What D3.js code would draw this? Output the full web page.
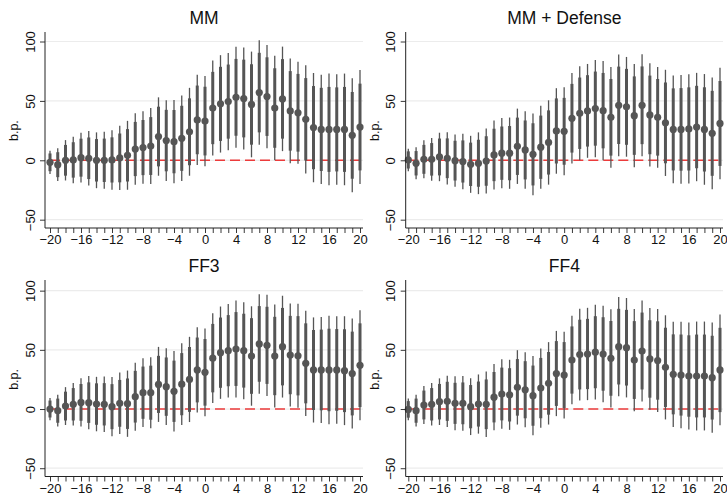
<!DOCTYPE html>
<html>
<head>
<meta charset="utf-8">
<script src="https://cdn.jsdelivr.net/npm/d3@7"></script>
<style>
body { margin: 0; background: #fff; }
svg { display: block; font-family: "Liberation Sans", Arial, sans-serif; }
</style>
</head>
<body>
<svg id="chart" width="727" height="496"></svg>
<script>
// event days
const days = [-20,-19,-18,-17,-16,-15,-14,-13,-12,-11,-10,-9,-8,-7,-6,-5,-4,-3,-2,-1,
	0,1,2,3,4,5,6,7,8,9,10,11,12,13,14,15,16,17,18,19,20];
const xTickLabels = [-20,-16,-12,-8,-4,0,4,8,12,16,20];
const yTickLabels = [-50,0,50,100];

// point estimates (b.p.) and half-width of the wide (99%) interval
const mmEst = [-1.7,-3.7,0,0.3,2.2,1.7,0,0,0.3,2,4.2,9.5,10.7,12,20,16.6,15.7,18.5,24,34,
	33,44,47.5,49.4,53,52,47,57,53.6,44,51.7,41.6,40,34.5,27.5,26,26,26,26,21,28];
const mmCi = [9.8,13.8,17,19.6,21,23,23.5,24,25,27,29,30,30.5,32,33,34,35,36,37,38,
	38,40,41,41,42.5,43,44.5,44,43.5,44,44,44,43,45.6,46,46,47,46.5,47,48,48];

const defEst = [0.3,-2.5,0.8,0.8,2.8,1.7,-0.3,-1,-3.4,-2.5,-0.6,4.5,6,6,11.8,8.7,5,11,15,24.7,
	24.4,35.4,39.6,41.6,43.5,41.8,36.2,46.3,45,37.6,46.3,38.2,36.2,31.5,26,26,26.4,28,26,22.7,31];
const defCi = [9.5,13.5,16,18,20.4,22,22,23.3,24,26,27.4,29,29.5,30,31.7,32.6,34.4,35,35.5,36,
	37,38,39.5,39.5,41,41.7,42.4,42.8,42,43.4,43,43.5,42.4,44.7,45.4,45.7,46,45.6,46.6,47,47];

const ff3Est = [0,-1.4,2.5,4,5.6,5.4,4.2,4,2,4.8,4.5,10.4,13.8,13.8,20.8,18.9,15,21,25,33,
	31,43,47.6,49.3,50.7,49.3,44.8,55,53.8,44.8,52.7,45.6,45,38.6,33,33,33,33,32.4,30,37];
const ff3Ci = [9.4,13.4,16,18,20.4,22.5,23,23.5,25,26,28,28.7,29,30,31.7,32.4,34,34.5,36,36,
	37,38,39,39.5,41,41,42,42,42.8,43.5,43,43.5,44,44.4,44.4,44.8,45.8,45.4,46,46.5,46.5];

const ff4Est = [-0.3,-1.4,3.4,4,6.2,6.5,4.8,4.8,2,4.2,4,10,12.7,12,18.3,16.3,11.3,17.7,21.7,30,
	28.7,41.4,46,46.5,48,46.5,42.8,52.7,51.8,41.4,49,42.3,41,35.2,29.3,28.7,27.9,27.9,27.9,26.5,33];
const ff4Ci = [9.2,13.4,16,18,19.7,21.7,22.8,23.2,24,25,27.6,28,29.3,29.6,31.4,31.7,33.4,33.5,34.8,36,
	36.6,37.3,38.7,39,40,40.8,41.5,42,42,43.2,42.7,43,43.5,44,44.4,45,45.2,46,46,46.5,46.8];

const titles = ["MM", "MM + Defense", "FF3", "FF4"];

const zWide = 2.576, zNarrow = 1.96;
const dotColor = "#555555";
const font = "'Liberation Sans', Arial, sans-serif";

// panel frames
const panels = [
	{title: titles[0], est: mmEst, ci: mmCi, left: 45, right: 363, xa: 50, xb: 360, top: 32, bottom: 228, yDom: [-57, 108], titleY: 24},
	{title: titles[1], est: defEst, ci: defCi, left: 405.7, right: 723, xa: 408.3, xb: 720, top: 32, bottom: 228, yDom: [-57, 108], titleY: 24},
	{title: titles[2], est: ff3Est, ci: ff3Ci, left: 45, right: 363, xa: 50, xb: 360, top: 280, bottom: 476.5, yDom: [-57, 109], titleY: 272},
	{title: titles[3], est: ff4Est, ci: ff4Ci, left: 405.7, right: 723, xa: 408.3, xb: 720, top: 280, bottom: 476.5, yDom: [-57, 109], titleY: 272}
];

const svg = d3.select("#chart");

function drawPanel(p) {
	const g = svg.append("g");
	const x = d3.scaleLinear().domain([-20, 20]).range([p.xa, p.xb]);
	const y = d3.scaleLinear().domain(p.yDom).range([p.bottom, p.top]);
	const data = days.map((d, i) => ({day: d, est: p.est[i], ci: p.ci[i]}));

	// title
	g.append("text")
		.attr("x", (p.left + p.right) / 2)
		.attr("y", p.titleY)
		.attr("text-anchor", "middle")
		.style("font-size", "17.5px")
		.style("fill", "#111")
		.text(p.title);

	// gridlines
	g.selectAll(".grid")
		.data(yTickLabels)
		.enter()
		.append("line")
		.attr("x1", p.left)
		.attr("x2", p.right)
		.attr("y1", d => y(d))
		.attr("y2", d => y(d))
		.style("stroke", "#ececec")
		.style("stroke-width", 1.2);

	// zero reference
	g.append("line")
		.attr("x1", x(-20))
		.attr("x2", x(20))
		.attr("y1", y(0))
		.attr("y2", y(0))
		.style("stroke", "#ec3b3b")
		.style("stroke-width", 1.5)
		.style("stroke-dasharray", "10,5");

	// wide interval
	g.selectAll(".wide")
		.data(data)
		.enter()
		.append("line")
		.attr("x1", d => x(d.day))
		.attr("x2", d => x(d.day))
		.attr("y1", d => y(d.est - d.ci))
		.attr("y2", d => y(d.est + d.ci))
		.style("stroke", dotColor)
		.style("stroke-width", 1.3);

	// narrow interval
	g.selectAll(".narrow")
		.data(data)
		.enter()
		.append("line")
		.attr("x1", d => x(d.day))
		.attr("x2", d => x(d.day))
		.attr("y1", d => y(d.est - d.ci * zNarrow / zWide))
		.attr("y2", d => y(d.est + d.ci * zNarrow / zWide))
		.style("stroke", dotColor)
		.style("stroke-width", 3);

	// points
	g.selectAll(".dot")
		.data(data)
		.enter()
		.append("circle")
		.attr("cx", d => x(d.day))
		.attr("cy", d => y(d.est))
		.attr("r", 3.6)
		.style("fill", dotColor);

	// x axis
	const axisX = d3.axisBottom(x)
		.tickValues(days)
		.tickSize(5)
		.tickFormat(d => xTickLabels.includes(d) ? String(d).replace("-", "\u2212") : "");
	const gx = g.append("g")
		.attr("transform", `translate(0,${p.bottom})`)
		.call(axisX);
	gx.select(".domain").remove();
	gx.selectAll("line").style("stroke", "#222").style("stroke-width", 0.9);
	gx.selectAll("text")
		.attr("y", 7)
		.style("font-size", "13px")
		.style("font-family", font)
		.style("fill", "#111");

	// y axis
	const axisY = d3.axisLeft(y)
		.tickValues(yTickLabels)
		.tickSize(5)
		.tickFormat(d => String(d).replace("-", "\u2212"));
	const gy = g.append("g")
		.attr("transform", `translate(${p.left},0)`)
		.call(axisY);
	gy.select(".domain").remove();
	gy.selectAll("line").style("stroke", "#222").style("stroke-width", 0.9);
	gy.selectAll("text")
		.attr("x", 0)
		.attr("dy", 0)
		.attr("text-anchor", "middle")
		.attr("transform", "translate(-10.5,0) rotate(-90)")
		.style("font-size", "13px")
		.style("font-family", font)
		.style("fill", "#111");

	// axis lines
	g.append("line")
		.attr("x1", p.left).attr("x2", p.left)
		.attr("y1", p.top).attr("y2", p.bottom)
		.style("stroke", "#222").style("stroke-width", 1);
	g.append("line")
		.attr("x1", p.left).attr("x2", p.right)
		.attr("y1", p.bottom).attr("y2", p.bottom)
		.style("stroke", "#222").style("stroke-width", 1);

	// y label
	g.append("text")
		.attr("transform", `translate(${p.left - 27},${y(25)}) rotate(-90)`)
		.attr("text-anchor", "middle")
		.style("font-size", "12.5px")
		.style("fill", "#111")
		.text("b.p.");
}

panels.forEach(drawPanel);
</script>
</body>
</html>
